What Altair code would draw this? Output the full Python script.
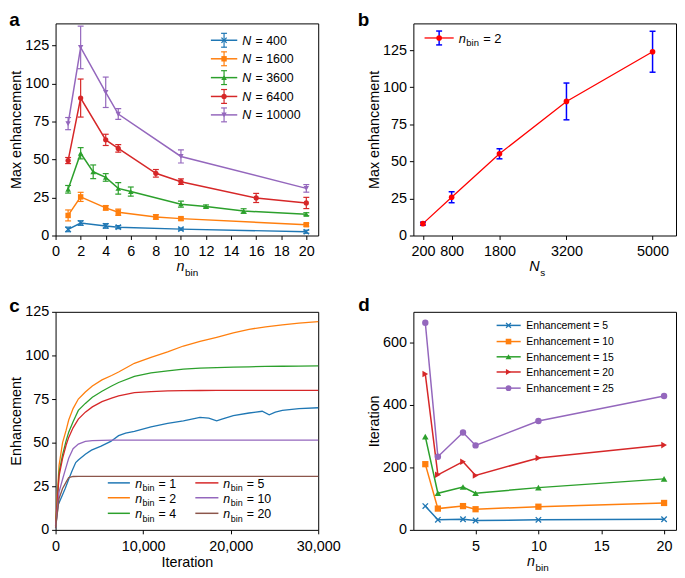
import altair as alt
import pandas as pd

FONT = "Liberation Sans"
TAB = ["#1f77b4", "#ff7f0e", "#2ca02c", "#d62728", "#9467bd", "#8c564b"]
XSHAPE = "M-1,-1L1,1M-1,1L1,-1"

# ---------------- panel a: max enhancement vs n_bin ----------------
a_N = ["400", "1600", "3600", "6400", "10000"]
a_x400 = [1, 2, 4, 5, 10, 20]
a_y400 = [4.0, 8.2, 6.3, 5.5, 4.2, 2.5]
a_e400 = [1.5, 1.5, 1.5, 1.0, 0.7, 1.0]
a_x1600 = [1, 2, 4, 5, 8, 10, 20]
a_y1600 = [13.2, 25.4, 18.2, 15.3, 12.2, 11.1, 7.1]
a_e1600 = [3.6, 3.0, 1.5, 2.0, 1.5, 1.0, 1.0]
a_x3600 = [1, 2, 3, 4, 5, 6, 10, 12, 15, 20]
a_y3600 = [30.4, 54.1, 41.9, 38.2, 31.0, 28.9, 20.6, 19.1, 16.1, 14.0]
a_e3600 = [2.5, 3.7, 4.5, 2.5, 3.8, 3.0, 2.0, 1.0, 1.5, 1.0]
a_x6400 = [1, 2, 4, 5, 8, 10, 16, 20]
a_y6400 = [49.3, 90.4, 62.9, 57.3, 40.9, 35.4, 24.7, 21.4]
a_e6400 = [2.0, 12.5, 3.7, 2.5, 2.5, 1.8, 3.0, 3.7]
a_x10000 = [1, 2, 4, 5, 10, 20]
a_y10000 = [73.6, 123.7, 94.2, 79.9, 52.0, 31.0]
a_e10000 = [4.0, 14.0, 10.0, 3.5, 4.3, 2.5]

# ---------------- panel b: max enhancement vs N_s ----------------
b_Ns = [200, 800, 1800, 3200, 5000]
b_enh = [8.0, 25.8, 55.1, 90.4, 123.9]
b_err = [1.0, 3.7, 3.4, 12.4, 13.8]

# ---------------- panel c: enhancement vs iteration ----------------
c_labels = ["1", "2", "4", "5", "10", "20"]
c_iter_1 = [0, 300, 700, 1100, 1500, 1900, 2300, 2600, 3400, 4100,
            5200, 6300, 7200, 8000, 9000, 10900, 12800, 14600, 16500, 17500,
            18400, 19000, 20300, 22100, 23600, 24400, 25100, 25900, 27800, 30000]
c_enh_1 = [1, 14.4, 19, 23.7, 29, 34, 38.6, 40, 43.3, 45.7,
           48, 50.7, 54, 55.5, 56.5, 59, 61, 62.5, 64.5, 64,
           62.5, 63.5, 65.5, 67, 68, 66, 67.5, 68.5, 69.5, 70]
c_iter = [0, 400, 800, 1200, 1500, 2000, 2600, 3400, 4200, 5300, 6400, 7200,
          9000, 10900, 12800, 14600, 16500, 18400, 20300, 22100, 24000, 25900, 27800, 30000]
c_enh_2 = [2, 37, 50, 57, 63, 69.5, 75, 79, 82.5, 86, 88.5, 90.5,
           95.5, 98.9, 102, 105.4, 108, 110.4, 113, 115, 116.4, 117.5, 118.5, 119.4]
c_enh_4 = [2, 33, 43, 51, 56, 62, 68.5, 72.5, 76, 79.5, 82.5, 84.5,
           88, 90, 91.2, 92.2, 92.7, 93, 93.3, 93.5, 93.7, 93.8, 93.9, 94]
c_enh_5 = [2, 31, 41, 48.5, 53, 58.5, 63.5, 67.5, 70.5, 73.5, 75.5, 76.8,
           78.7, 79.3, 79.7, 79.8, 79.9, 80, 80, 80, 80, 80, 80, 80]
c_enh_10 = [1, 21.8, 29, 36, 41, 46.5, 49.2, 50.7, 51.1, 51.3, 51.4, 51.5,
            51.5, 51.5, 51.5, 51.5, 51.5, 51.5, 51.5, 51.5, 51.5, 51.5, 51.5, 51.5]
c_enh_20 = [1, 18, 23.7, 27.4, 30, 30.6, 30.7, 30.7, 30.7, 30.7, 30.7, 30.7,
            30.7, 30.7, 30.7, 30.7, 30.7, 30.7, 30.7, 30.7, 30.7, 30.7, 30.7, 30.7]

# ---------------- panel d: iterations needed vs n_bin ----------------
d_nbin = [1, 2, 4, 5, 10, 20]
d_labels = ["5", "10", "15", "20", "25"]
d_it_5 = [76, 32, 34, 30, 32, 34]
d_it_10 = [210, 68, 76, 66, 74, 86]
d_it_15 = [298, 117, 137, 117, 135, 163]
d_it_20 = [498, 176, 218, 174, 230, 271]
d_it_25 = [662, 234, 311, 270, 348, 428]

# ---------------- layout (pixels, relative to each plot area) ----------------
W = 265
H1 = 214
H2 = 220
LEFT_EXT = 46.7
CW = {"n": 0.556, "N": 0.722, "b": 0.556, "i": 0.222, "s": 0.5}

ONE = pd.DataFrame({"k": [0]})


def txt(s, x, y, size, style="normal", weight="normal", align="left", color="black"):
    return alt.Chart(ONE).mark_text(
        text=s, font=FONT, fontSize=size, fontStyle=style, fontWeight=weight,
        align=align, baseline="alphabetic", color=color
    ).encode(x=alt.value(x), y=alt.value(y))


def hseg(x1, x2, y, color, w):
    return alt.Chart(ONE).mark_rule(color=color, strokeWidth=w).encode(
        x=alt.value(x1), x2=alt.value(x2), y=alt.value(y))


def vseg(x, y1, y2, color, w):
    return alt.Chart(ONE).mark_rule(color=color, strokeWidth=w).encode(
        x=alt.value(x), y=alt.value(y1), y2=alt.value(y2))


def sym(x, y, shape, color, size, filled=True):
    return alt.Chart(ONE).mark_point(
        shape=shape, filled=filled, size=size, color=color, opacity=1,
        strokeWidth=1.3
    ).encode(x=alt.value(x), y=alt.value(y))


def subtext(main, sub, rest, x, y, fs, sfs, drop, gap=0.33):
    wm = CW[main] * fs
    ws = sum(CW[ch] for ch in sub) * sfs
    out = [txt(main, x, y, fs, style="italic"), txt(sub, x + wm + 0.5, y + drop, sfs)]
    if rest:
        out.append(txt(rest, x + wm + 0.5 + ws + gap * fs, y, fs))
    return out


def errorbar_layers(df, X, ys, ay, color, lw=1.2, cap=6):
    Ylo = alt.Y("lo:Q", scale=ys, axis=ay)
    Yhi = alt.Y("hi:Q", scale=ys, axis=ay)
    return [
        alt.Chart(df).mark_rule(color=color, strokeWidth=lw).encode(x=X, y=Ylo, y2=alt.Y2("hi:Q")),
        alt.Chart(df).mark_tick(color=color, orient="horizontal", size=cap, thickness=lw, opacity=1).encode(x=X, y=Ylo),
        alt.Chart(df).mark_tick(color=color, orient="horizontal", size=cap, thickness=lw, opacity=1).encode(x=X, y=Yhi),
    ]


# ================= panel a =================
def build_a():
    xs = alt.Scale(domain=[0, 20.95], nice=False, zero=False)
    ys = alt.Scale(domain=[0, 139.5], nice=False, zero=False)
    ax = alt.Axis(values=list(range(0, 21, 2)), title=None)
    ay = alt.Axis(values=[0, 25, 50, 75, 100, 125], title="Max enhancement")
    series = [(a_x400, a_y400, a_e400), (a_x1600, a_y1600, a_e1600),
              (a_x3600, a_y3600, a_e3600), (a_x6400, a_y6400, a_e6400),
              (a_x10000, a_y10000, a_e10000)]
    shapes = [(XSHAPE, False, 28), ("square", True, 30), ("triangle-up", True, 32),
              ("circle", True, 28), ("triangle-down", True, 30)]
    layers = []
    X = alt.X("x:Q", scale=xs, axis=ax)
    for i, ((xv, yv, ev), (shp, fill, sz)) in enumerate(zip(series, shapes)):
        df = pd.DataFrame({"x": xv, "y": yv,
                           "lo": [v - e for v, e in zip(yv, ev)],
                           "hi": [v + e for v, e in zip(yv, ev)]})
        col = TAB[i]
        Y = alt.Y("y:Q", scale=ys, axis=ay)
        layers.append(alt.Chart(df).mark_line(color=col, strokeWidth=1.5).encode(x=X, y=Y))
        layers += errorbar_layers(df, X, ys, ay, col)
        layers.append(alt.Chart(df).mark_point(shape=shp, filled=fill, size=sz, color=col,
                                               opacity=1, strokeWidth=1.3).encode(x=X, y=Y))
    # legend
    rows = [17, 35.7, 54.7, 73.7, 92.3]
    lx1, lx2, mx, tx = 156.7, 183.3, 170, 188.3
    for i, y in enumerate(rows):
        col = TAB[i]
        shp, fill, sz = shapes[i]
        layers += [hseg(lx1, lx2, y, col, 1.5), vseg(mx, y - 7, y + 7, col, 1.2),
                   hseg(mx - 3, mx + 3, y - 7, col, 1.2), hseg(mx - 3, mx + 3, y + 7, col, 1.2),
                   sym(mx, y, shp, col, sz, fill),
                   txt("N", tx, y + 4.3, 12.5, style="italic"),
                   txt("= " + a_N[i], tx + 13.4, y + 4.3, 12.5)]
    layers += subtext("n", "bin", None, W / 2 - 10.5, H1 + 36, 14.5, 10, 5)
    layers.append(txt("a", -LEFT_EXT, 3, 19, weight="bold"))
    return alt.layer(*layers).properties(width=W, height=H1)


# ================= panel b =================
def build_b():
    xs = alt.Scale(domain=[0, 5490], nice=False, zero=False)
    ys = alt.Scale(domain=[0, 143], nice=False, zero=False)
    ax = alt.Axis(values=b_Ns, format="d", title=None)
    ay = alt.Axis(values=[0, 25, 50, 75, 100, 125], title="Max enhancement")
    df = pd.DataFrame({"x": b_Ns, "y": b_enh,
                       "lo": [v - e for v, e in zip(b_enh, b_err)],
                       "hi": [v + e for v, e in zip(b_enh, b_err)]})
    X = alt.X("x:Q", scale=xs, axis=ax)
    Y = alt.Y("y:Q", scale=ys, axis=ay)
    layers = [alt.Chart(df).mark_line(color="#ff0000", strokeWidth=1.3).encode(x=X, y=Y)]
    layers += errorbar_layers(df, X, ys, ay, "#0000ff", lw=1.5, cap=6)
    layers.append(alt.Chart(df).mark_point(shape="circle", filled=True, size=32, color="#ff0000",
                                           opacity=1).encode(x=X, y=Y))
    y = 14.7
    layers += [hseg(11.3, 40.7, y, "#ff0000", 1.3), vseg(26, y - 7, y + 7, "#0000ff", 1.5),
               hseg(23, 29, y - 7, "#0000ff", 1.5), hseg(23, 29, y + 7, "#0000ff", 1.5),
               sym(26, y, "circle", "#ff0000", 32)]
    layers += subtext("n", "bin", "= 2", 45.7, y + 4.6, 13, 9.5, 3.5)
    layers += subtext("N", "s", None, 117, H1 + 36, 14.5, 10, 5)
    layers.append(txt("b", -56, 3, 19, weight="bold"))
    return alt.layer(*layers).properties(width=W, height=H1)


# ================= panel c =================
def build_c():
    xs = alt.Scale(domain=[0, 30000], nice=False, zero=False)
    ys = alt.Scale(domain=[0, 125], nice=False, zero=False)
    ax = alt.Axis(values=[0, 10000, 20000, 30000], format=",d", title="Iteration")
    ay = alt.Axis(values=[0, 25, 50, 75, 100, 125], title="Enhancement")
    X = alt.X("x:Q", scale=xs, axis=ax)
    Y = alt.Y("y:Q", scale=ys, axis=ay)
    series = [(c_iter_1, c_enh_1), (c_iter, c_enh_2), (c_iter, c_enh_4),
              (c_iter, c_enh_5), (c_iter, c_enh_10), (c_iter, c_enh_20)]
    layers = []
    for i, (xv, yv) in enumerate(series):
        df = pd.DataFrame({"x": xv, "y": yv})
        layers.append(alt.Chart(df).mark_line(color=TAB[i], strokeWidth=1.3).encode(x=X, y=Y))
    rows = [H2 - 47.4, H2 - 32.4, H2 - 16.7]
    cols = [(52.7, 75.0, 80.3), (141.0, 164.3, 169.3)]
    for i in range(6):
        cx1, cx2, ctx = cols[i // 3]
        y = rows[i % 3]
        layers.append(hseg(cx1, cx2, y, TAB[i], 1.5))
        layers += subtext("n", "bin", "= " + c_labels[i], ctx, y + 5, 12.5, 9, 3.5)
    layers.append(txt("c", -LEFT_EXT, 0.4, 19, weight="bold"))
    return alt.layer(*layers).properties(width=W, height=H2)


# ================= panel d =================
def build_d():
    xs = alt.Scale(domain=[0.05, 20.95], nice=False, zero=False)
    ys = alt.Scale(domain=[0, 697], nice=False, zero=False)
    ax = alt.Axis(values=[5, 10, 15, 20], title=None)
    ay = alt.Axis(values=[0, 200, 400, 600], title="Iteration")
    X = alt.X("x:Q", scale=xs, axis=ax)
    Y = alt.Y("y:Q", scale=ys, axis=ay)
    series = [d_it_5, d_it_10, d_it_15, d_it_20, d_it_25]
    shapes = [(XSHAPE, False, 30), ("square", True, 40), ("triangle-up", True, 44),
              ("triangle-right", True, 44), ("circle", True, 42)]
    layers = []
    for i, (yv, (shp, fill, sz)) in enumerate(zip(series, shapes)):
        df = pd.DataFrame({"x": d_nbin, "y": yv})
        layers.append(alt.Chart(df).mark_line(color=TAB[i], strokeWidth=1.5).encode(x=X, y=Y))
        layers.append(alt.Chart(df).mark_point(shape=shp, filled=fill, size=sz, color=TAB[i],
                                               opacity=1, strokeWidth=1.3).encode(x=X, y=Y))
    rows = [13.7, 30, 45.4, 60.7, 77]
    for i, y in enumerate(rows):
        shp, fill, sz = shapes[i]
        layers += [hseg(84, 108.3, y, TAB[i], 1.5), sym(96, y, shp, TAB[i], sz * 0.8, fill),
                   txt("Enhancement = " + d_labels[i], 114, y + 3.8, 10.5)]
    layers += subtext("n", "bin", None, 114.7, H2 + 36, 14.5, 10, 5)
    layers.append(txt("d", -55.5, -0.6, 19, weight="bold"))
    return alt.layer(*layers).properties(width=W, height=H2)


chart = alt.concat(
    build_a(), build_b(), build_c(), build_d(),
    columns=2, spacing={"row": 77, "column": 96}, bounds="flush"
).properties(
    padding={"left": 0, "top": 0, "right": 0, "bottom": 0}
).configure_view(
    stroke="black", strokeWidth=1
).configure_axis(
    labelFont=FONT, titleFont=FONT, labelFontSize=14.5, titleFontSize=14.5,
    titleFontWeight="normal", labelColor="black", titleColor="black",
    tickColor="black", tickSize=4, tickWidth=1, domain=False, grid=False,
    labelFlush=False, labelOverlap=False
).configure_axisX(
    labelPadding=5.5, titlePadding=2.5
).configure_axisY(
    labelPadding=3, titlePadding=1
)

chart.save("out.html", embed_options={"renderer": "svg", "actions": False})
